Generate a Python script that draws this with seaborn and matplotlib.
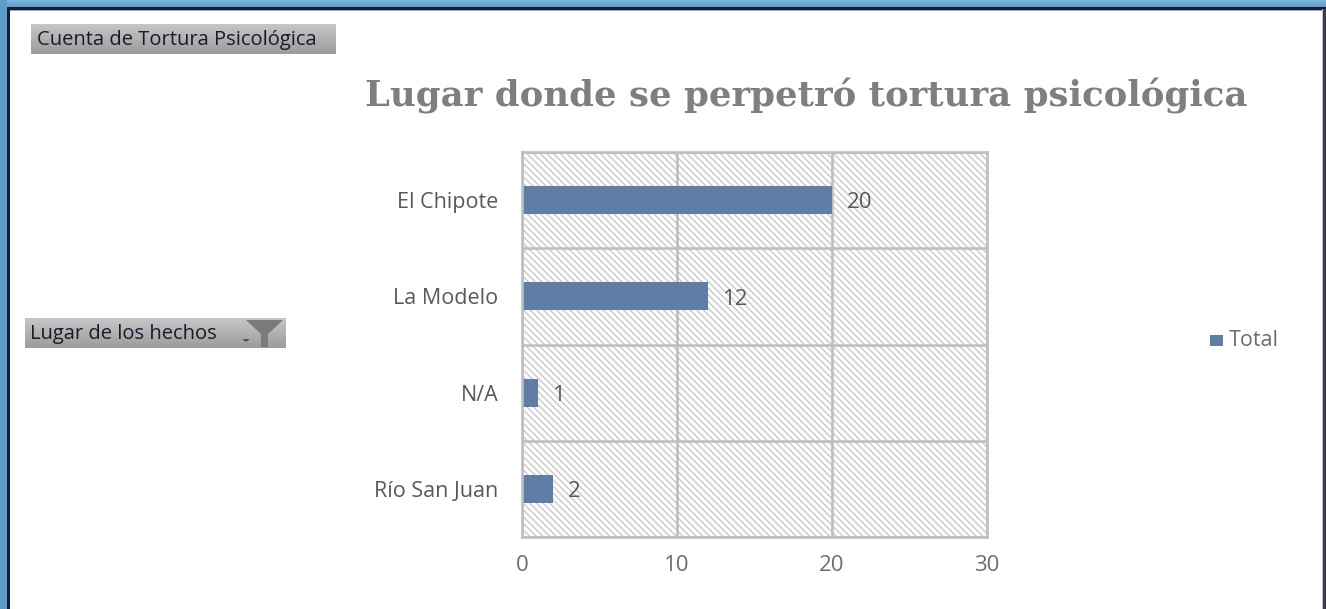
import numpy as np
import pandas as pd
import matplotlib
matplotlib.use("Agg")
import matplotlib.pyplot as plt
from matplotlib.patches import Rectangle, Polygon
import seaborn as sns

categories = ["El Chipote", "La Modelo", "N/A", "Río San Juan"]
values = [20, 12, 1, 2]
x_ticks = [0, 10, 20, 30]
title = "Lugar donde se perpetró tortura psicológica"
series_name = "Total"
field_value = "Cuenta de Tortura Psicológica"
field_row = "Lugar de los hechos"

W, H = 1326, 609
sns.set_theme(style="white")
plt.rcParams["font.family"] = ["Open Sans", "DejaVu Sans"]

fig = plt.figure(figsize=(W / 100, H / 100), dpi=100, facecolor="white")

# Pixel-space overlay for window frame and field buttons
bg = fig.add_axes([0, 0, 1, 1], zorder=0)
bg.set_xlim(0, W)
bg.set_ylim(H, 0)
bg.axis("off")

def gradient(ax, x0, y0, x1, y1, c0, c1):
    g = np.linspace(0, 1, 32).reshape(-1, 1)
    c0, c1 = np.array(matplotlib.colors.to_rgb(c0)), np.array(matplotlib.colors.to_rgb(c1))
    img = (c0 + (c1 - c0) * g[..., None].reshape(-1, 1)).reshape(32, 1, 3)
    ax.imshow(img, extent=(x0, x1, y1, y0), aspect="auto", interpolation="bilinear", zorder=1)

gradient(bg, 0, 0, W, 7, "#7fb4d8", "#5d9cc8")
gradient(bg, 31, 24, 336, 54, "#c6c6c6", "#9c9c9c")
gradient(bg, 25, 318, 286, 348, "#c6c6c6", "#9c9c9c")
bg.set_xlim(0, W)
bg.set_ylim(H, 0)
bg.add_patch(Rectangle((0, 0), 7, H, fc="#5d9cc8", ec="none", zorder=1))
bg.add_patch(Rectangle((7, 7), 2.5, H, fc="#10203f", ec="none", zorder=2))
bg.add_patch(Rectangle((7, 7), W, 2.5, fc="#10203f", ec="none", zorder=2))
bg.add_patch(Rectangle((9.5, 9.5), W, 1.5, fc="#a8a8a8", ec="none", zorder=2))
bg.add_patch(Rectangle((1323, 9), 3, H, fc="#3c3c48", ec="none", zorder=2))
bg.add_patch(Rectangle((1321.5, 9), 1.5, H, fc="#c4c4c4", ec="none", zorder=2))
bg.add_patch(Polygon([(246, 320), (283, 320), (268, 334), (268, 347), (261, 347), (261, 334)],
                     fc="#7a7a7a", ec="none", zorder=3))
bg.add_patch(Polygon([(242, 339), (250, 339), (246, 342)], fc="#555555", ec="none", zorder=3))
bg.text(37, 40, field_value, fontsize=14.5, color="#1a1a2a", va="center", ha="left",
        family="Open Sans", zorder=4)
bg.text(30, 334, field_row, fontsize=14.5, color="#1a1a2a", va="center", ha="left",
        family="Open Sans", zorder=4)

# Chart title
bg.text(806, 96, title, fontsize=25.6, fontweight="bold", color="#7f7f7f", va="center",
        ha="center", family="DejaVu Serif", zorder=4)

# Legend swatch
bg.add_patch(Rectangle((1210, 335), 13, 11, fc="#607da6", ec="none", zorder=4))
bg.text(1229, 340, series_name, fontsize=15.5, color="#6d6d6d", va="center", ha="left", zorder=4)

# Main bar chart
x0, x1, y0, y1 = 522, 987, 152, 537
ax = fig.add_axes([x0 / W, 1 - y1 / H, (x1 - x0) / W, (y1 - y0) / H], zorder=2)
df = pd.DataFrame({"lugar": categories, "total": values})
plt.rcParams["hatch.linewidth"] = 1.3
ax.patch.set_facecolor("white")
ax.patch.set_hatch("\\\\\\\\\\")
ax.patch.set_edgecolor("#c8c8c8")
sns.barplot(data=df, y="lugar", x="total", orient="h", color="#607da6", saturation=1,
            width=0.29, linewidth=0, ax=ax, zorder=3)
ax.set_xlim(0, 30)
ax.set_ylim(3.5, -0.5)
ax.set_xticks(x_ticks)
ax.set_xlabel("")
ax.set_ylabel("")
ax.grid(True, color="#bfbfbf", linewidth=1.9, zorder=2)
ax.set_axisbelow(True)
ax.set_yticks(np.arange(-0.5, 4, 1), minor=True)
ax.grid(True, which="minor", axis="y", color="#bfbfbf", linewidth=1.9)
ax.grid(False, which="major", axis="y")
for s in ax.spines.values():
    s.set_color("#bfbfbf")
    s.set_linewidth(1.9)
    s.set_zorder(4)
ax.tick_params(axis="x", which="major", length=0, labelsize=16, labelcolor="#6d6d6d", pad=13)
ax.tick_params(axis="y", which="major", length=0, labelsize=15.5, labelcolor="#595959", pad=17)
ax.tick_params(axis="y", which="minor", length=4.5, width=1.9, color="#bfbfbf")
ax.tick_params(axis="x", which="minor", length=0)
labels = ax.bar_label(ax.containers[0], labels=[str(v) for v in values], padding=11,
                      fontsize=16, color="#595959")
for t in labels:
    t.xyann = (t.xyann[0], -2)

fig.savefig("out.png", dpi=100)
